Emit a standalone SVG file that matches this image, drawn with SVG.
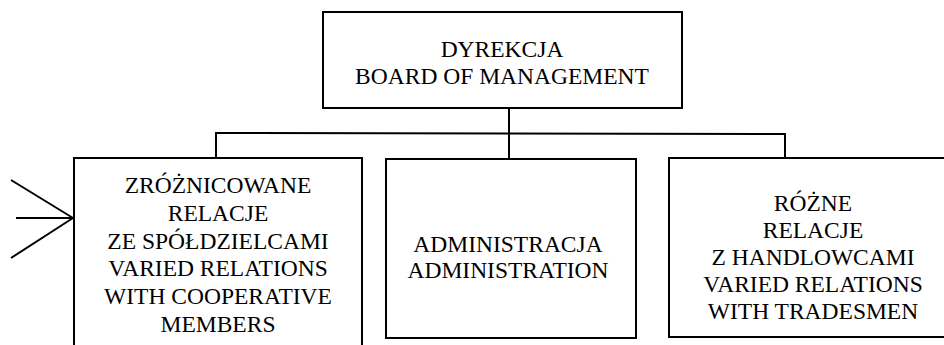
<svg xmlns="http://www.w3.org/2000/svg" width="944" height="345" viewBox="0 0 944 345">
  <style>
    .box { fill: #ffffff; stroke: #000000; stroke-width: 2; }
    .wire { fill: none; stroke: #000000; stroke-width: 2; }
    .lbl { font-family: "Liberation Serif", "Times New Roman", serif; font-size: 23.5px; fill: #000000; text-anchor: middle; }
  </style>
  <rect width="944" height="345" fill="#ffffff"/>

  <!-- connectors -->
  <g id="connectors">
    <line class="wire" x1="509" y1="108" x2="509" y2="159"/>
    <polyline class="wire" points="216,158 216,133 785,134 785,158"/>
    <!-- incoming relations into the cooperative-members unit -->
    <line class="wire" x1="11" y1="180" x2="73" y2="218"/>
    <line class="wire" x1="16" y1="218" x2="79" y2="218"/>
    <line class="wire" x1="11" y1="258" x2="73" y2="218"/>
  </g>

  <g id="board">
    <rect class="box" x="323" y="12" width="359" height="96"/>
    <text class="lbl" x="502" y="57">DYREKCJA</text>
    <text class="lbl" x="502" y="84">BOARD OF MANAGEMENT</text>
  </g>

  <g id="cooperative">
    <rect class="box" x="74" y="158" width="288" height="200"/>
    <text class="lbl" x="218" y="193">ZRÓŻNICOWANE</text>
    <text class="lbl" x="218" y="220.8">RELACJE</text>
    <text class="lbl" x="218" y="248.6">ZE SPÓŁDZIELCAMI</text>
    <text class="lbl" x="218" y="276.4">VARIED RELATIONS</text>
    <text class="lbl" x="218" y="304.2">WITH COOPERATIVE</text>
    <text class="lbl" x="218" y="332">MEMBERS</text>
  </g>

  <g id="administration">
    <rect class="box" x="386" y="159" width="250" height="179"/>
    <text class="lbl" x="508" y="252">ADMINISTRACJA</text>
    <text class="lbl" x="508" y="278">ADMINISTRATION</text>
  </g>

  <g id="tradesmen">
    <rect class="box" x="669" y="158" width="290" height="179"/>
    <text class="lbl" x="813" y="211">RÓŻNE</text>
    <text class="lbl" x="813" y="238">RELACJE</text>
    <text class="lbl" x="813" y="265">Z HANDLOWCAMI</text>
    <text class="lbl" x="813" y="292">VARIED RELATIONS</text>
    <text class="lbl" x="813" y="319">WITH TRADESMEN</text>
  </g>
</svg>
